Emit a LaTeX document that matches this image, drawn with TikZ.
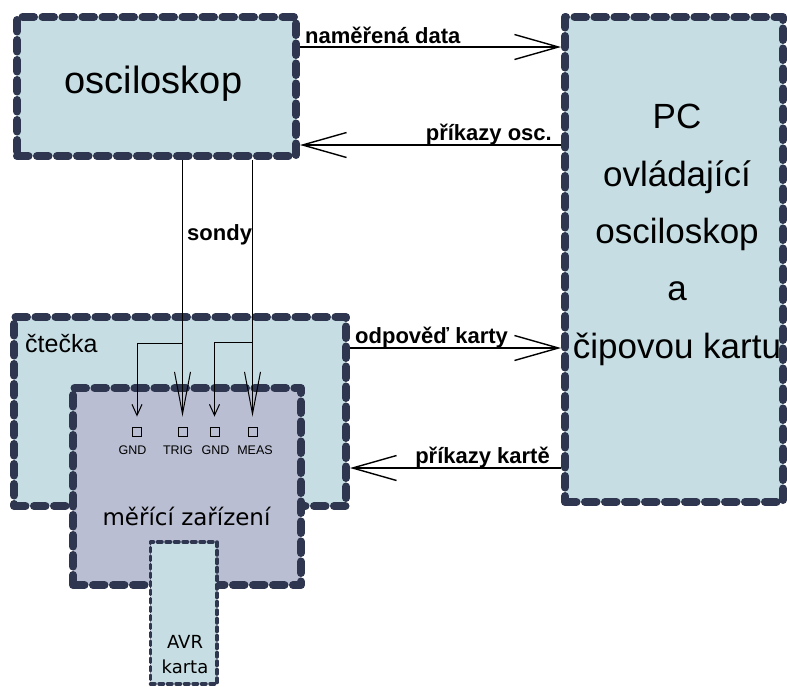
\documentclass[tikz,border=0pt]{standalone}
\usepackage{fontspec}
\setmainfont{Liberation Sans}
\newfontfamily\dvs{DejaVu Sans}
\usetikzlibrary{arrows.meta}
\definecolor{boxblue}{RGB}{198,222,227}
\definecolor{boxlav}{RGB}{185,190,210}
\definecolor{edge}{RGB}{46,54,80}
\tikzset{
  bigbox/.style={draw=edge, fill=boxblue, line width=8pt, line cap=round, line join=round,
    dash pattern=on 11.5pt off 8.5pt, inner sep=0pt},
  lavbox/.style={bigbox, fill=boxlav},
  smallbox/.style={draw=edge, fill=boxblue, line width=3.5pt, line cap=round, line join=round,
    dash pattern=on 4.5pt off 4pt, inner sep=0pt},
  lbl/.style={font=\fontsize{22}{25}\selectfont\bfseries, inner sep=0pt, anchor=base west},
  lblr/.style={lbl, anchor=base east},
  pctext/.style={font=\fontsize{35}{40}\selectfont, inner sep=0pt, anchor=base},
  pinsq/.style={draw=black, line width=0.9pt, minimum size=9pt, inner sep=0pt},
  pinlbl/.style={font=\fontsize{12.5}{14}\selectfont, inner sep=0pt, anchor=base},
  conn/.style={line width=1.4pt, -{Straight Barb[length=44pt,width=25pt,line width=1.4pt]}},
  probe/.style={line width=1pt, -{Straight Barb[length=42pt,width=16pt,line width=1pt]}},
  gndprobe/.style={line width=1pt, -{Straight Barb[length=11pt,width=10pt,line width=1pt]}},
}
\begin{document}
\begin{tikzpicture}[x=1pt,y=-1pt]
\useasboundingbox (0,0) rectangle (787,686);
% boxes
\node[bigbox, minimum width=279pt, minimum height=139pt] (osc) at (156.5,86.5) {};
\node[bigbox, minimum width=218pt, minimum height=485pt] (pc) at (674,259.5) {};
\node[bigbox, minimum width=332pt, minimum height=189pt] (ctecka) at (180,411.5) {};
\node[lavbox, minimum width=228pt, minimum height=197pt] (meric) at (187,486.5) {};
\node[smallbox, minimum width=66.5pt, minimum height=142pt] (avr) at (183.75,613) {};
% texts
\node[font=\fontsize{38}{42}\selectfont, inner sep=0pt, anchor=base] (osct) at (153.5,93) {osciloskop};
\node[pctext] (pc1) at (677,128.3) {PC};
\node[pctext] (pc2) at (677,186.7) {ovládající};
\node[pctext] (pc3) at (677,243.5) {osciloskop};
\node[pctext] (pc4) at (677,300.7) {a};
\node[pctext] (pc5) at (677,358) {čipovou kartu};
\node[font=\fontsize{25}{28}\selectfont, inner sep=0pt, anchor=base west] (ct) at (25,352) {čtečka};
\node[font=\dvs\fontsize{23}{26}\selectfont, inner sep=0pt, anchor=base] (mt) at (186.5,525) {měřící zařízení};
\node[font=\dvs\fontsize{18}{21}\selectfont, inner sep=0pt, anchor=base] (avr1) at (185,648) {AVR};
\node[font=\dvs\fontsize{18}{21}\selectfont, inner sep=0pt, anchor=base] (avr2) at (185,673) {karta};
% pins
\node[pinsq] (gnd1) at (137,432) {};
\node[pinsq] (trig) at (182.5,432) {};
\node[pinsq] (gnd2) at (214.5,432) {};
\node[pinsq] (meas) at (252.5,432) {};
\node[pinlbl] (gnd1t) at (132.5,454) {GND};
\node[pinlbl] (trigt) at (178,454) {TRIG};
\node[pinlbl] (gnd2t) at (215.5,454) {GND};
\node[pinlbl] (meast) at (255,454) {MEAS};
% connectors between osciloskop / čtečka and PC
\draw[conn] (osc.east |- 0,47) -- (pc.west |- 0,47);
\draw[conn] (pc.west |- 0,145) -- (osc.east |- 0,145);
\draw[conn] (ctecka.east |- 0,348) -- (pc.west |- 0,348);
\draw[conn] (pc.west |- 0,468) -- (ctecka.east |- 0,468);
\node[lbl] (l1) at (305,43) {naměřená data};
\node[lblr] (l2) at (552,140) {příkazy osc.};
\node[lbl] (l3) at (355,343) {odpověď karty};
\node[lblr] (l4) at (550,463) {příkazy kartě};
\node[lbl] (l5) at (187,240) {sondy};
% probes
\coordinate (tipT) at ([yshift=10.5pt]trig.north);
\coordinate (tipM) at ([yshift=10.5pt]meas.north);
\coordinate (tipG1) at ([yshift=10.5pt]gnd1.north);
\coordinate (tipG2) at ([yshift=10.5pt]gnd2.north);
\draw[probe] (osc.south -| tipT) -- (tipT);
\draw[probe] (osc.south -| tipM) -- (tipM);
\coordinate (bT) at (tipT |- 0,343);
\coordinate (bM) at (tipM |- 0,342.5);
\draw[gndprobe] (bT) -| (tipG1);
\draw[gndprobe] (bM) -| (tipG2);
\end{tikzpicture}
\end{document}
